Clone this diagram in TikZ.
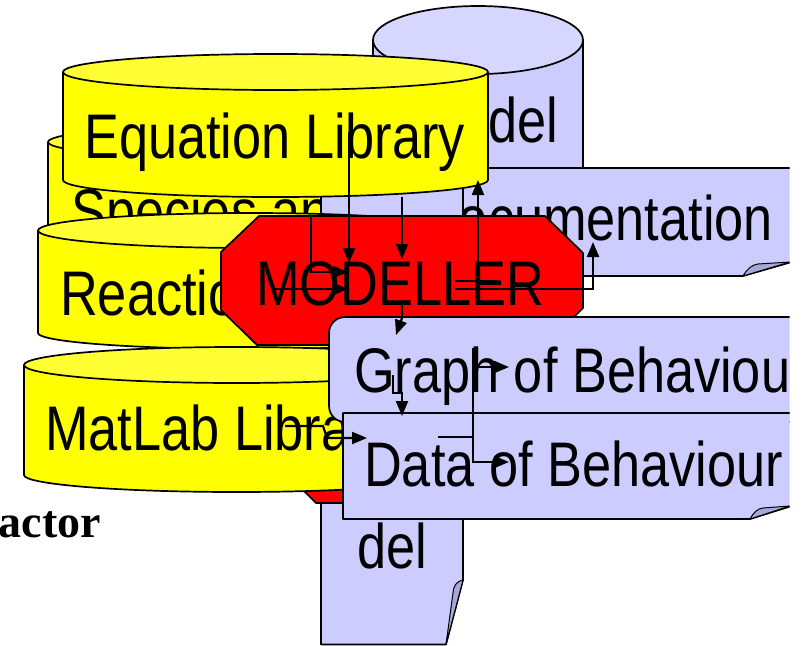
\documentclass[tikz,border=0pt]{standalone}
\usepackage{fontspec}
\setmainfont{Liberation Sans}
\newfontfamily\nar[FakeStretch=0.83]{Liberation Sans}
\newfontfamily\tmsb{Liberation Serif}
\usetikzlibrary{arrows.meta}
\definecolor{yelbody}{HTML}{FFFF00}
\definecolor{yeltop}{HTML}{FFFF33}
\definecolor{blubody}{HTML}{CCCCFF}
\definecolor{blutop}{HTML}{D6D6FF}
\definecolor{curlfill}{HTML}{A8A8D6}
\definecolor{redfill}{HTML}{FF0000}
% cx, rx, ytop, rytop, ybottom, rybottom, body colour, top colour
\newcommand\drawcyl[8]{%
  \path[shp, fill=#7] ({#1-#2},#3) -- ({#1-#2},#5)
    arc[start angle=180, end angle=360, x radius=#2pt, y radius=#6pt]
    -- ({#1+#2},#3) -- cycle;
  \path[shp, fill=#8] (#1,#3) ellipse[x radius=#2pt, y radius=#4pt];
}
\tikzset{
  shp/.style={draw=black, line width=1.7pt, line join=round},
  lab/.style={font=\nar\fontsize{63}{70}\selectfont, inner sep=0pt, anchor=base west},
  conn/.style={draw=black, line width=2.2pt},
  arr/.style={conn, -{Triangle[length=15pt,width=12pt]}},
}
\begin{document}
\begin{tikzpicture}[x=1pt,y=-1pt]
\useasboundingbox (0,0) rectangle (807,646);
\begin{scope}
\clip (0,0) rectangle (789.5,646);
% Model cylinder (back)
\drawcyl{478}{105}{40}{34}{200}{34}{blubody}{blutop}
\node[lab] (modelcyl) at (488,142) {del};
% Species cylinder
\drawcyl{260.5}{212.5}{142}{17}{260}{17}{yelbody}{yeltop}
\node[lab] (species) at (71,233) {Species an};
% Documentation
\path[shp, fill=blubody] (400,168) -- (830,168) -- (830,251) -- (743,276) -- (400,276) -- cycle;
\path[shp, fill=curlfill, line width=1pt] (743,276) .. controls (748,268) and (752,265) .. (758,264) -- (790,262) -- cycle;
\node[lab] (docu) at (421,240) {Documentation};
% tall Model document
\path[shp, fill=blubody] (321,185) -- (463,185) -- (463,580) -- (446,644.5) -- (321,644.5) -- cycle;
\path[shp, fill=curlfill, line width=1pt] (463,580) .. controls (457,581) and (453,586) .. (453,593) -- (446,644.5) -- cycle;
\node[font=\nar\fontsize{63}{70}\selectfont, inner sep=0pt, anchor=base] (modeldoc) at (392,568) {del};
% Reaction cylinder
\drawcyl{250.5}{212.5}{230.5}{17.5}{333}{16}{yelbody}{yeltop}
\node[lab] (reaction) at (60,315) {Reaction};
% Equation Library cylinder
\drawcyl{275.5}{212.5}{72}{18}{180}{17}{yelbody}{yeltop}
\node[lab] (eqlib) at (84,158) {Equation Library};
% MODELLER octagon
\path[shp, fill=redfill] (259,216) -- (545,216) -- (583,253) -- (583,308) -- (546,345) -- (257,345) -- (221,310) -- (221,252) -- cycle;
\node[lab] (modeller) at (256,305) {MODELLER};
% lower red shape
\path[shp, fill=redfill] (279,420) -- (279,466) -- (316,503) -- (560,503) -- (590,473) -- (590,420) -- cycle;
% MatLab cylinder
\drawcyl{236.5}{212.5}{365}{18}{475}{17}{yelbody}{yeltop}
\node[lab] (matlab) at (45,450) {MatLab Library};
% Graph of Behaviour
\path[shp, fill=blubody, rounded corners=16pt] (329,317) rectangle (840,422);
\node[lab] (graph) at (354,392) {Graph of Behaviour};
% Data of Behaviour
\path[shp, fill=blubody] (343,413) -- (830,413) -- (830,494) -- (750,519) -- (343,519) -- cycle;
\path[shp, fill=curlfill, line width=1pt] (750,519) .. controls (754,512) and (757,509) .. (763,508) -- (790,506) -- cycle;
\node[lab] (data) at (364,486) {Data of Behaviour};
% connector end points
\coordinate (a1) at (349,132); \coordinate (a2) at (349,263);
\coordinate (b1) at (311,216); \coordinate (b2) at (348,272);
\coordinate (c1) at (275,289); \coordinate (c2) at (348,289);
\coordinate (d1) at (402,197); \coordinate (d2) at (402,259);
\coordinate (e1) at (402,303); \coordinate (e2) at (396,335);
\coordinate (f1) at (478,290); \coordinate (f2) at (478,180);
\coordinate (g1) at (455,289); \coordinate (g2) at (593,242);
\coordinate (h1) at (455,281); \coordinate (h2) at (498,281);
\coordinate (i1) at (473,348); \coordinate (i2) at (509,462);
\coordinate (j1) at (473,367); \coordinate (j2) at (509,367);
\coordinate (k1) at (438,437); \coordinate (k2) at (473,437);
\coordinate (l1) at (393,375); \coordinate (l2) at (402,416);
\coordinate (m1) at (285,426); \coordinate (m2) at (367,438);
% connectors
\draw[arr] (a1) -- (a2);
\draw[arr] (b1) |- (b2);
\draw[arr] (c1) -- (c2);
\draw[arr] (d1) -- (d2);
\draw[arr] (e1) -- ++(0,15) -- (e2);
\draw[arr] (f1) -- (f2);
\draw[arr] (g1) -| (g2);
\draw[conn] (h1) -- (h2);
\draw[arr] (i1) |- (i2);
\draw[arr] (j1) -- (j2);
\draw[conn] (k1) -- (k2);
\draw[arr] (l1) -- ++(0,18) -| (l2);
\draw[arr] (m1) -- ++(38,0) -- ++(4,12) -- (m2);
\end{scope}
\node[font=\tmsb\bfseries\fontsize{46}{50}\selectfont, inner sep=0pt, anchor=base east] (actor) at (101,537) {actor};
\end{tikzpicture}
\end{document}
